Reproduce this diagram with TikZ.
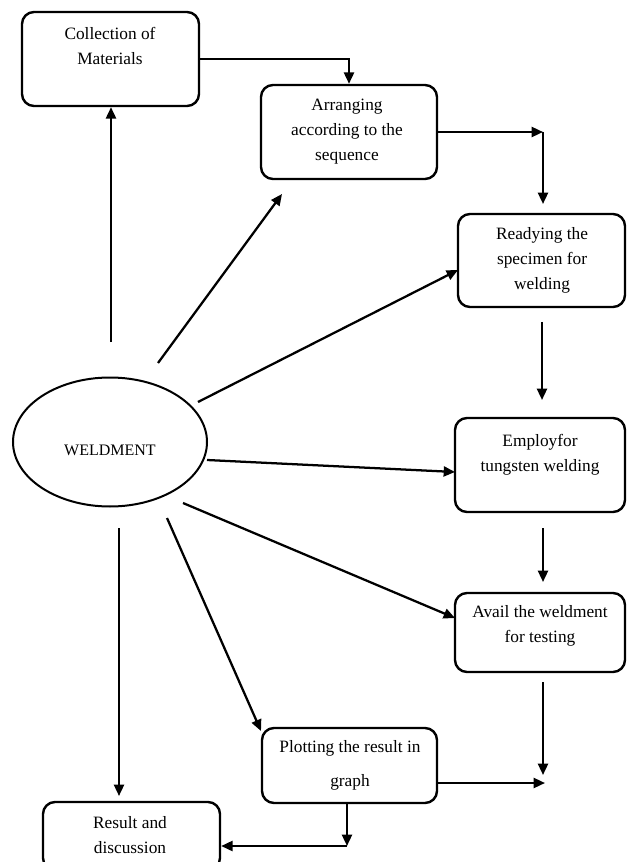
\documentclass[tikz,border=0pt]{standalone}
\usepackage{fontspec}
\setmainfont{Liberation Serif}
\usetikzlibrary{arrows.meta,shapes.geometric}
\begin{document}
\begin{tikzpicture}[x=0.75pt,y=-0.75pt,
  box/.style={draw,line width=1.8pt,rounded corners=9pt,inner sep=0pt},
  txt/.style={align=center,font=\fontsize{13pt}{18.75pt}\selectfont,inner sep=0pt},
  arr/.style={line width=1.7pt,-{Triangle[length=8.5pt,width=7.5pt]}}]
\useasboundingbox (0,0) rectangle (627,862);
\clip (0,0) rectangle (627,862);
% boxes
\node[box,minimum width=177*0.75pt,minimum height=94*0.75pt] (coll) at (110.5,59) {};
\node[txt] (collt) at (110,45.5) {Collection of\\Materials};
\node[box,minimum width=176*0.75pt,minimum height=94*0.75pt] (arr) at (349,132) {};
\node[txt] (arrt) at (347,131.5) {Arranging\\according to the\\sequence};
\node[box,minimum width=167*0.75pt,minimum height=93*0.75pt] (rdy) at (541.5,260.5) {};
\node[txt] (rdyt) at (542,260) {Readying the\\specimen for\\welding};
\node[box,minimum width=170*0.75pt,minimum height=94*0.75pt] (emp) at (540,465) {};
\node[txt] (empt) at (540,454.5) {Employfor\\tungsten welding};
\node[box,minimum width=170*0.75pt,minimum height=79*0.75pt] (avl) at (540,632.5) {};
\node[txt] (avlt) at (540,625.5) {Avail the weldment\\for testing};
\node[box,minimum width=175*0.75pt,minimum height=75*0.75pt] (plt) at (349.5,765.5) {};
\node[txt,font=\fontsize{13pt}{25.5pt}\selectfont] (pltt) at (350,765) {Plotting the result in\\graph};
\node[box,minimum width=177*0.75pt,minimum height=68*0.75pt] (res) at (131.5,836) {};
\node[txt] (rest) at (130,835.5) {Result and\\discussion};
\node[draw,ellipse,line width=1.5pt,minimum width=194*0.75pt,minimum height=129*0.75pt,inner sep=0pt] (wel) at (110,442) {};
\node[inner sep=0pt,font=\fontsize{12pt}{14pt}\selectfont] (welt) at (110,450) {WELDMENT};
% chain connectors
\draw[arr] (coll.east) -| (arr.north);
\coordinate (k1) at (543,132);
\coordinate (k2) at (543,204);
\draw[arr] (arr.east) -- (k1);
\draw[arr] (k1) -- (k2);
\coordinate (r1) at (542,322);
\coordinate (r2) at (542,400);
\draw[arr] (r1) -- (r2);
\coordinate (e1) at (543,528);
\coordinate (e2) at (543,582);
\draw[arr] (e1) -- (e2);
\coordinate (a1) at (543,682);
\coordinate (a2) at (543,775);
\draw[arr] (a1) -- (a2);
\coordinate (p1) at (545,783);
\draw[arr] (p1 -| plt.east) -- (p1);
\coordinate (p2) at (347,846);
\draw[arr] (plt.south -| p2) -- (p2);
\draw[arr] (p2) -- (p2 -| res.east);
% weldment connectors
\coordinate (w1) at (111,342);
\draw[arr] (w1) -- (coll.south -| w1);
\coordinate (w2) at (158,363);
\coordinate (t2) at (282,194);
\draw[arr] (w2) -- (t2);
\coordinate (w3) at (198,402);
\coordinate (t3) at (458,270);
\draw[arr] (w3) -- (t3);
\coordinate (w4) at (207,460);
\coordinate (t4) at (455,472);
\draw[arr] (w4) -- (t4);
\coordinate (w5) at (183,503);
\coordinate (t5) at (455,618);
\draw[arr] (w5) -- (t5);
\coordinate (w6) at (167,518);
\coordinate (t6) at (261,731);
\draw[arr] (w6) -- (t6);
\coordinate (w7) at (119,528);
\coordinate (t7) at (119,796);
\draw[arr] (w7) -- (t7);
\end{tikzpicture}
\end{document}
